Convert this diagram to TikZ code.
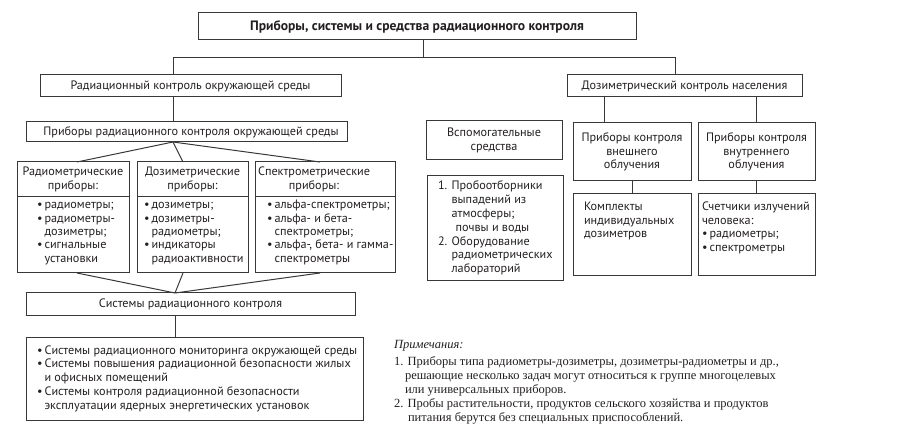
\documentclass[tikz,border=0pt]{standalone}
\usepackage{fontspec}
\setmainfont{PT Sans}
\newfontfamily\notesfont{Liberation Serif}
\usetikzlibrary{calc}
\definecolor{ink}{HTML}{231F20}
\definecolor{edge}{HTML}{383838}
\tikzset{
  bx/.style={draw=edge, line width=1pt, inner sep=0pt, outer sep=0pt, anchor=north west},
  txt/.style={inner sep=0pt, outer sep=0pt, text=ink, font=\fontsize{12.2}{13.4}\selectfont},
  conn/.style={draw=edge, line width=1pt},
}
\newcommand\mkbox[5]{\node[bx, minimum width={(#4-#2)*1pt}, minimum height={(#5-#3)*1pt}] (#1) at (#2,#3) {};}
\newcommand\bl{•\,}
\newcommand\ind{\hphantom{•\,}}
\begin{document}
\begin{tikzpicture}[x=1pt,y=-1pt]
\useasboundingbox (0,0) rectangle (897,435);
% boxes
\mkbox{T}{198}{13}{636}{40}
\mkbox{A}{40}{75}{341}{97}
\mkbox{B}{567}{75}{802}{97}
\mkbox{C}{26}{122}{347}{142}
\mkbox{Rh1}{17}{162}{129}{197}
\mkbox{Rl1}{17}{197}{129}{273}
\mkbox{Rh2}{137}{162}{248}{197}
\mkbox{Rl2}{137}{197}{248}{273}
\mkbox{Rh3}{255}{162}{395}{197}
\mkbox{Rl3}{255}{197}{395}{273}
\mkbox{Sy}{26}{293}{355}{316}
\mkbox{L}{26}{338}{363}{421}
\mkbox{V}{426}{121}{562}{160}
\mkbox{N}{427}{176}{563}{281}
\mkbox{E}{573}{123}{691}{181}
\mkbox{I}{698}{123}{815}{181}
\mkbox{K}{573}{194}{691}{276}
\mkbox{S}{698}{194}{815}{276}
% texts
\node[txt, font=\fontsize{13.6}{15}\selectfont\bfseries] (tT) at (T.center) {Приборы, системы и средства радиационного контроля};
\node[txt] (tA) at (A.center) {Радиационный контроль окружающей среды};
\node[txt] (tB) at (B.center) {Дозиметрический контроль населения};
\node[txt] (tC) at (191,132) {Приборы радиационного контроля окружающей среды};
\node[txt, align=center] (th1) at (Rh1.center) {Радиометрические\\приборы:};
\node[txt, align=center] (th2) at (Rh2.center) {Дозиметрические\\приборы:};
\node[txt, align=center] (th3) at (314,179.5) {Спектрометрические\\приборы:};
\node[txt, align=left, anchor=base west, font=\fontsize{12.2}{13.3}\selectfont] (tl1) at (37,262.2) {\bl радиометры;\\\bl радиометры-\\\ind дозиметры;\\\bl сигнальные\\\ind установки};
\node[txt, align=left, anchor=base west, font=\fontsize{12.2}{13.3}\selectfont] (tl2) at (144,262.2) {\bl дозиметры;\\\bl дозиметры-\\\ind радиометры;\\\bl индикаторы\\\ind радиоактивности};
\node[txt, align=left, anchor=base west, font=\fontsize{12.2}{13.3}\selectfont] (tl3) at (267,262.2) {\bl альфа-спектрометры;\\\bl альфа- и бета-\\\ind спектрометры;\\\bl альфа-, бета- и гамма-\\\ind спектрометры};
\node[txt] (tSy) at (190.5,304.5) {Системы радиационного контроля};
\node[txt, align=left, anchor=base west, font=\fontsize{12.2}{13.9}\selectfont] (tL) at (37,409.6) {\bl Системы радиационного мониторинга окружающей среды\\\bl Системы повышения радиационной безопасности жилых\\\ind и офисных помещений\\\bl Системы контроля радиационной безопасности\\\ind эксплуатации ядерных энергетических установок};
\node[txt, align=center] (tV) at (V.center) {Вспомогательные\\средства};
\node[txt, align=left, anchor=base west, font=\fontsize{12.2}{13.8}\selectfont] (tN) at (438,272.8) {1. Пробоотборники\\\hphantom{1. }выпадений из\\\hphantom{1. }атмосферы;\\\hphantom{1. }\hspace{4pt}почвы и воды\\2. Оборудование\\\hphantom{2. }радиометрических\\\hphantom{2. }лабораторий};
\node[txt, align=center] (tE) at (E.center) {Приборы контроля\\внешнего\\облучения};
\node[txt, align=center] (tI) at (I.center) {Приборы контроля\\внутреннего\\облучения};
\node[txt, align=left, anchor=base west] (tK) at (584,237.8) {Комплекты\\индивидуальных\\дозиметров};
\node[txt, align=left, anchor=base west] (tS) at (702,251.2) {Счетчики излучений\\человека:\\\bl радиометры;\\\bl спектрометры};
% notes
\node[txt, anchor=base west, font=\notesfont\fontsize{12.5}{14}\selectfont\itshape] (nh) at (394,349) {Примечания:};
\node[txt, align=left, anchor=base west, font=\notesfont\fontsize{12.5}{14}\selectfont] (nb) at (394,421) {1. Приборы типа радиометры-дозиметры, дозиметры-радиометры и др.,\\\hspace{11pt}решающие несколько задач могут относиться к группе многоцелевых\\\hspace{11pt}или универсальных приборов.\\2. Пробы растительности, продуктов сельского хозяйства и продуктов\\\hspace{14pt}питания берутся без специальных приспособлений.};
% connector junctions
\coordinate (j0) at (423,58);
\coordinate (ja) at (173,58);
\coordinate (jb) at (675,58);
\coordinate (f1) at (77,0);
\coordinate (f2) at (183,0);
\coordinate (f3) at (320,0);
\coordinate (g0) at (175,0);
\coordinate (e1) at (604,0);
\coordinate (e2) at (632,0);
\coordinate (i1) at (756,0);
% connectors
\draw[conn] (T.south -| j0) -- (j0);
\draw[conn] (A.north -| ja) -- (ja) -- (jb) -- (B.north -| jb);
\draw[conn] (A.south -| ja) -- (C.north -| ja);
\draw[conn] (C.south -| ja) -- (Rh1.north -| f1);
\draw[conn] (C.south -| ja) -- (Rh2.north -| f2);
\draw[conn] (C.south -| ja) -- (Rh3.north -| f3);
\draw[conn] (Rl1.south -| f1) -- (Sy.north -| g0);
\draw[conn] (Rl2.south -| f2) -- (Sy.north -| g0);
\draw[conn] (Rl3.south -| f3) -- (Sy.north -| g0);
\draw[conn] (Sy.south -| g0) -- (L.north -| g0);
\draw[conn] (B.south -| e1) -- (E.north -| e1);
\draw[conn] (B.south -| i1) -- (I.north -| i1);
\draw[conn] (E.south -| e2) -- (K.north -| e2);
\draw[conn] (I.south -| i1) -- (S.north -| i1);
\end{tikzpicture}
\end{document}
